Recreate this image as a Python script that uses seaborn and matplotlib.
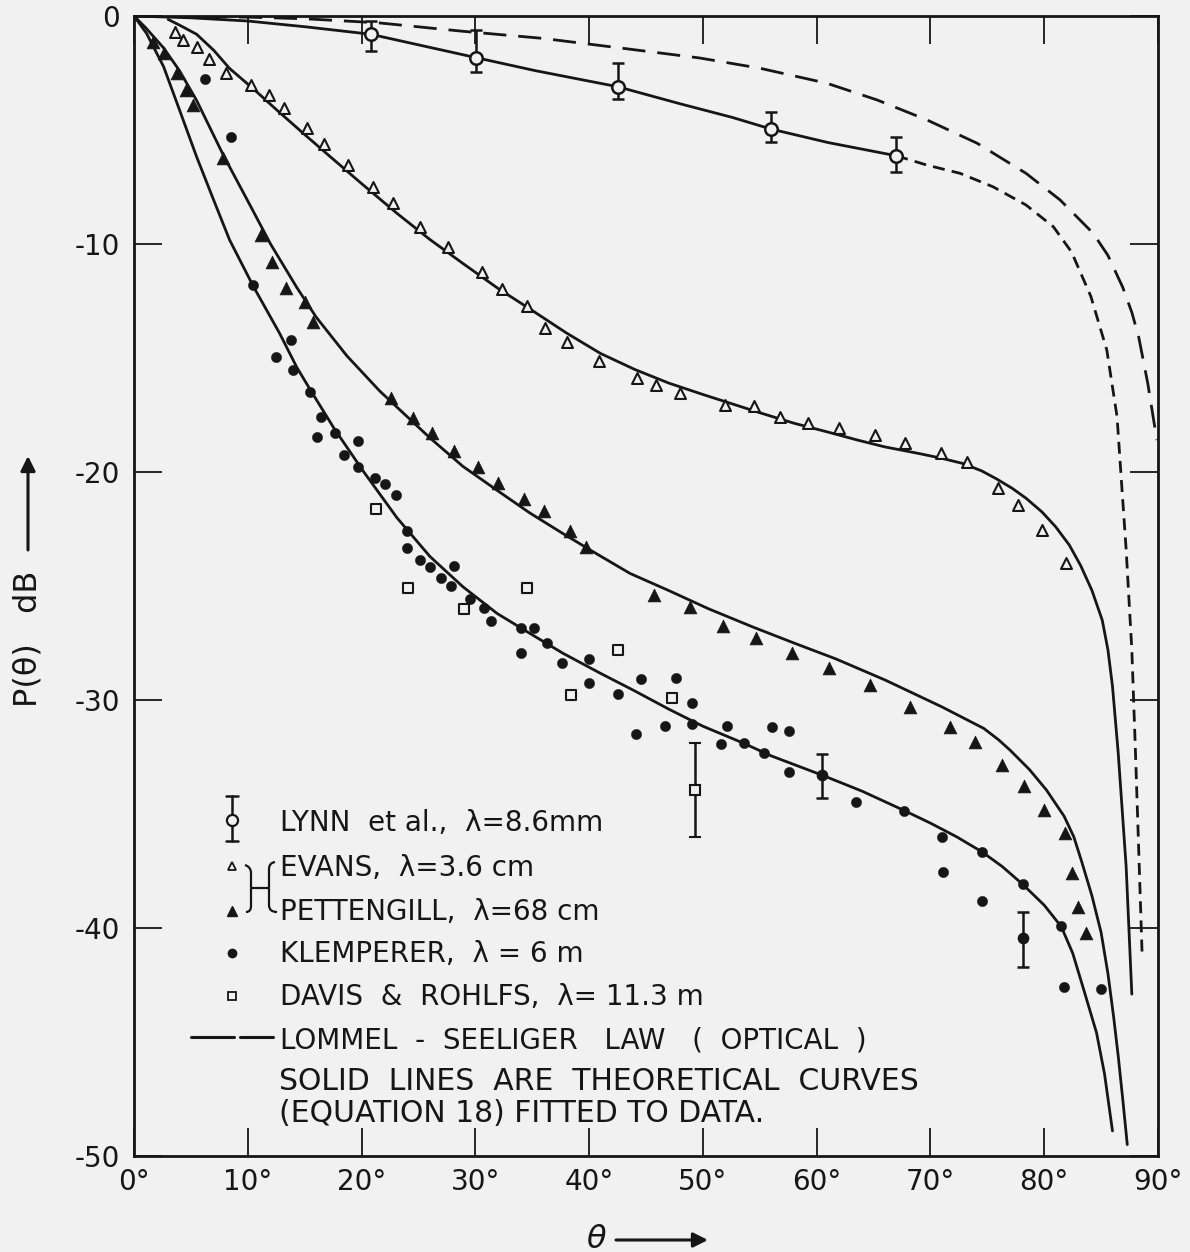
import matplotlib
matplotlib.use("Agg")
import matplotlib.pyplot as plt
import seaborn as sns
from matplotlib.lines import Line2D
from matplotlib.path import Path
from matplotlib.patches import PathPatch
from matplotlib.transforms import Affine2D

# ---------------- data (angle of incidence in degrees, power in dB) ----------------
theta_ticks = [0, 10, 20, 30, 40, 50, 60, 70, 80, 90]
theta_tick_labels = ["0°", "10°", "20°", "30°", "40°", "50°", "60°", "70°", "80°", "90°"]
db_ticks = [0, -10, -20, -30, -40, -50]
db_tick_labels = ["0", "-10", "-20", "-30", "-40", "-50"]

# Lynn et al., 8.6 mm (open circles with error bars)
lynn_theta = [20.8, 30.1, 42.5, 56.0, 67.0]
lynn_db = [-0.80, -1.83, -3.10, -4.96, -6.13]
lynn_err_up = [0.59, 1.22, 1.03, 0.74, 0.84]
lynn_err_dn = [0.72, 0.61, 0.55, 0.55, 0.73]
lynn_fit_theta = [0, 5, 10, 15, 20.8, 30.1, 35.3, 42.5, 48.0, 52.6, 56.0, 61.0, 67.0]
lynn_fit_db = [0, -0.08, -0.22, -0.47, -0.80, -1.83, -2.40, -3.10, -3.85, -4.45, -4.96, -5.55, -6.13]
lynn_ext_theta = [67.0, 69.7, 72.6, 75.5, 78.4, 80.8, 82.4, 84.1, 85.5, 86.4, 86.8, 87.2, 87.7, 88.0, 88.3, 88.6]
lynn_ext_db = [-6.13, -6.54, -6.90, -7.49, -8.29, -9.24, -10.35, -12.3, -14.65, -17.57, -20.5, -23.4, -27.8, -32.0, -36.5, -41.1]

# Evans, 3.6 cm (open triangles)
evans_theta = [3.6, 4.3, 5.5, 6.6, 8.1, 10.3, 11.9, 13.2, 15.2, 16.7, 18.8, 21.0, 22.8, 25.1,
               27.6, 30.6, 32.3, 34.5, 36.1, 38.1, 40.9, 44.2, 45.9, 48.0, 51.9, 54.5, 56.8,
               59.2, 62.0, 65.1, 67.8, 70.9, 73.2, 75.9, 77.7, 79.8, 81.9]
evans_db = [-0.69, -1.05, -1.37, -1.90, -2.49, -3.03, -3.46, -4.05, -4.93, -5.63, -6.54, -7.49,
            -8.22, -9.24, -10.12, -11.21, -11.99, -12.72, -13.70, -14.28, -15.13, -15.86, -16.18,
            -16.55, -17.06, -17.10, -17.60, -17.84, -18.08, -18.38, -18.74, -19.18, -19.55,
            -20.72, -21.45, -22.54, -24.00]
evans_fit_theta = [3.0, 4.0, 5.5, 7.0, 8.4, 10.5, 12.5, 15.0, 17.2, 20.0, 23.1, 26.0, 28.9, 32.0,
                   34.8, 38.0, 41.0, 44.0, 47.0, 50.0, 52.5, 55.0, 58.0, 61.0, 63.6, 66.0, 69.1,
                   71.0, 72.8, 74.5, 75.8, 77.2, 78.4, 79.8, 81.0, 82.2, 83.2, 84.2, 85.1, 85.6,
                   86.0, 86.5, 87.2, 87.7]
evans_fit_db = [-0.15, -0.40, -0.80, -1.50, -2.30, -3.20, -4.10, -5.20, -6.15, -7.35, -8.65, -9.80,
                -10.85, -11.95, -12.85, -13.90, -14.80, -15.50, -16.10, -16.60, -17.00, -17.40,
                -17.86, -18.25, -18.60, -18.90, -19.20, -19.40, -19.62, -19.95, -20.30, -20.72,
                -21.15, -21.75, -22.40, -23.20, -24.10, -25.20, -26.50, -27.80, -29.40, -32.30,
                -37.30, -42.90]

# Pettengill, 68 cm (filled triangles)
pett_theta = [1.7, 2.6, 3.75, 4.6, 5.2, 7.85, 11.2, 12.1, 13.4, 15.0, 15.7, 22.6, 24.5, 26.2,
              28.1, 30.2, 32.0, 34.3, 36.0, 38.3, 39.7, 45.7, 48.9, 51.8, 54.7, 57.8, 61.1, 64.7,
              68.2, 71.7, 73.9, 76.3, 78.2, 80.0, 81.8, 82.4, 83.0, 83.7]
pett_db = [-1.13, -1.64, -2.51, -3.25, -3.90, -6.24, -9.60, -10.78, -11.94, -12.53, -13.41,
           -16.74, -17.62, -18.30, -19.07, -19.80, -20.47, -21.20, -21.70, -22.59, -23.30, -25.40,
           -25.90, -26.75, -27.30, -27.92, -28.61, -29.34, -30.29, -31.20, -31.83, -32.85, -33.77,
           -34.82, -35.82, -37.57, -39.07, -40.23]
pett_fit_theta = [0, 1.0, 2.6, 4.0, 5.5, 7.85, 10.2, 12.0, 14.3, 16.0, 18.7, 21.6, 23.1, 26.0,
                  28.9, 31.9, 34.8, 37.7, 40.7, 43.6, 47.0, 50.5, 54.4, 58.0, 61.7, 66.0, 71.0,
                  74.7, 76.0, 77.0, 78.7, 80.2, 81.75, 82.6, 83.3, 84.2, 85.0, 85.6, 86.1, 86.5,
                  86.9, 87.3]
pett_fit_db = [0, -0.50, -1.40, -2.40, -3.70, -6.10, -8.30, -10.00, -11.90, -13.20, -14.90,
               -16.45, -17.15, -18.50, -19.75, -20.80, -21.80, -22.70, -23.60, -24.45, -25.20,
               -26.00, -26.80, -27.50, -28.20, -29.12, -30.30, -31.25, -31.75, -32.20, -33.05,
               -33.95, -35.10, -36.00, -37.10, -38.60, -40.20, -42.00, -43.90, -45.60, -47.50,
               -49.50]

# Klemperer, 6 m (filled circles)
klem_theta = [6.2, 8.5, 10.5, 13.8, 12.5, 14.0, 15.5, 16.4, 16.1, 17.7, 19.7, 18.5, 19.7, 21.2,
              22.1, 23.0, 24.0, 24.0, 25.1, 26.0, 27.0, 27.9, 28.1, 29.5, 30.8, 31.4, 34.0, 35.2,
              34.0, 36.3, 37.6, 40.0, 40.0, 42.5, 44.6, 47.6, 49.0, 44.1, 46.7, 49.0, 52.1, 51.6,
              53.6, 55.4, 56.1, 57.6, 57.6, 63.5, 67.7, 71.0, 71.1, 74.5, 74.5, 78.1, 81.5, 81.7,
              85.0]
klem_db = [-2.78, -5.32, -11.80, -14.21, -14.97, -15.53, -16.48, -17.57, -18.48, -18.30, -18.63,
           -19.25, -19.77, -20.28, -20.54, -21.00, -22.59, -23.35, -23.86, -24.18, -24.66, -24.99,
           -24.11, -25.58, -25.98, -26.54, -26.86, -26.86, -27.92, -27.49, -28.36, -28.20, -29.27,
           -29.75, -29.10, -29.05, -30.15, -31.50, -31.13, -31.05, -31.13, -31.93, -31.90, -32.34,
           -31.20, -31.36, -33.14, -34.46, -34.87, -36.02, -37.53, -36.65, -38.80, -38.08, -39.91,
           -42.60, -42.69]
klem_eb_theta = [60.5, 78.1]
klem_eb_db = [-33.29, -40.45]
klem_eb_up = [0.90, 1.16]
klem_eb_dn = [1.02, 1.25]
klem_fit_theta = [0, 1.1, 2.6, 4.0, 5.5, 7.0, 8.4, 10.5, 12.8, 14.3, 15.5, 17.6, 20.2, 23.1,
                  26.0, 28.9, 31.9, 34.8, 37.7, 41.0, 44.0, 47.0, 50.0, 53.6, 56.0, 60.5, 64.0,
                  67.7, 70.0, 72.3, 74.5, 76.3, 78.1, 80.0, 81.5, 82.5, 83.5, 84.6, 85.3, 86.0]
klem_fit_db = [0, -0.76, -2.22, -4.12, -6.17, -8.07, -9.82, -11.87, -13.92, -15.40, -16.40,
               -18.10, -20.00, -22.00, -23.70, -25.03, -26.20, -27.08, -27.95, -28.83, -29.60,
               -30.40, -31.15, -31.90, -32.45, -33.30, -34.00, -34.85, -35.40, -36.00, -36.65,
               -37.30, -38.08, -39.00, -39.94, -41.10, -42.75, -44.60, -46.40, -48.90]

# Davis & Rohlfs, 11.3 m (open squares)
davis_theta = [21.3, 24.1, 29.0, 34.5, 38.4, 42.5, 47.25]
davis_db = [-21.64, -25.07, -26.02, -25.07, -29.80, -27.80, -29.90]
davis_eb_theta = [49.3]
davis_eb_db = [-33.95]
davis_eb_err = [2.05]

# Lommel-Seeliger law (optical)
ls_theta = [0, 10, 15, 21.5, 28.9, 35.9, 42.7, 49.7, 55.0, 60.9, 65.3, 69.7, 74.1, 78.4, 81.4,
            84.3, 85.6, 86.9, 87.7, 88.3, 89.1, 89.9]
ls_db = [0, -0.05, -0.12, -0.30, -0.67, -0.98, -1.40, -1.84, -2.29, -2.95, -3.68, -4.56, -5.58,
         -6.90, -8.07, -9.53, -10.50, -11.90, -13.00, -14.07, -16.11, -18.60]

legend_labels = [
    "LYNN  et al.,  λ=8.6mm",
    "EVANS,  λ=3.6 cm",
    "PETTENGILL,  λ=68 cm",
    "KLEMPERER,  λ = 6 m",
    "DAVIS  &  ROHLFS,  λ= 11.3 m",
    "LOMMEL  -  SEELIGER   LAW   (  OPTICAL  )",
]
note_lines = ["SOLID  LINES  ARE  THEORETICAL  CURVES", "(EQUATION 18) FITTED TO DATA."]

# ---------------- style ----------------
sns.set_theme(style="ticks")
plt.rcParams["font.family"] = ["DejaVu Sans"]
BG = "#f1f1f1"
INK = "#161616"
LW = 2.0
W, H = 1190, 1252

fig = plt.figure(figsize=(W / 100, H / 100), dpi=100, facecolor=BG)


def fx(x):
    return x / W


def fy(y):
    return 1 - y / H


ax = fig.add_axes([fx(134), fy(1156), fx(1158) - fx(134), fy(16) - fy(1156)])
ax.set_facecolor(BG)


def curve(th, db, **kw):
    sns.lineplot(x=th, y=db, sort=False, estimator=None, color=INK, linewidth=LW,
                 ax=ax, legend=False, zorder=2, **kw)


# theoretical curves and optical law
curve(lynn_fit_theta, lynn_fit_db)
curve(lynn_ext_theta, lynn_ext_db, linestyle=(0, (4.3, 2.6)))
curve(evans_fit_theta, evans_fit_db)
curve(pett_fit_theta, pett_fit_db)
curve(klem_fit_theta, klem_fit_db)
curve(ls_theta, ls_db, linestyle=(0, (8.3, 4.3)))

# measurements
sns.scatterplot(x=evans_theta, y=evans_db, marker="^", s=62, color=INK, facecolor=BG,
                edgecolor=INK, linewidth=1.5, ax=ax, zorder=4, legend=False)
sns.scatterplot(x=pett_theta, y=pett_db, marker="^", s=85, color=INK, edgecolor=INK,
                linewidth=0.5, ax=ax, zorder=4, legend=False)
sns.scatterplot(x=klem_theta, y=klem_db, marker="o", s=55, color=INK, edgecolor=INK,
                linewidth=0.3, ax=ax, zorder=4, legend=False)
sns.scatterplot(x=davis_theta, y=davis_db, marker="s", s=48, color=INK, facecolor=BG,
                edgecolor=INK, linewidth=1.5, ax=ax, zorder=4, legend=False)

ax.errorbar(lynn_theta, lynn_db, yerr=[lynn_err_dn, lynn_err_up], fmt="o", ms=9, mfc=BG,
            mec=INK, mew=1.8, ecolor=INK, elinewidth=1.8, capsize=4.5, capthick=1.8, zorder=5)
ax.errorbar(klem_eb_theta, klem_eb_db, yerr=[klem_eb_dn, klem_eb_up], fmt="o", ms=7.4,
            mfc=INK, mec=INK, ecolor=INK, elinewidth=1.8, capsize=4.5, capthick=1.8, zorder=5)
ax.errorbar(davis_eb_theta, davis_eb_db, yerr=davis_eb_err, fmt="s", ms=7, mfc=BG,
            mec=INK, mew=1.5, ecolor=INK, elinewidth=1.8, capsize=4.5, capthick=1.8, zorder=5)

# axes
ax.set_xlim(0, 90)
ax.set_ylim(-50, 0)
ax.set_xticks(theta_ticks)
ax.set_xticklabels(theta_tick_labels)
ax.set_yticks(db_ticks)
ax.set_yticklabels(db_tick_labels)
ax.set_xlabel("")
ax.set_ylabel("")
ax.tick_params(axis="both", which="major", direction="in", length=20, width=1.3,
               color=INK, top=True, right=True, labelsize=20, labelcolor=INK)
ax.tick_params(axis="x", pad=9)
ax.tick_params(axis="y", pad=10)
for sp in ax.spines.values():
    sp.set_linewidth(2.0)
    sp.set_color(INK)

# axis titles with arrows
fig.text(fx(28), fy(707), "P(θ)   dB", rotation=90, ha="center", va="bottom",
         fontsize=23, color=INK)
fig.text(fx(596), fy(1239), "θ", style="italic", ha="center", va="center",
         fontsize=23, color=INK)
arrow_kw = dict(arrowstyle="-|>", lw=2.2, color=INK, mutation_scale=22, shrinkA=0, shrinkB=0)
ax.annotate("", xy=(28, H - 456), xytext=(28, H - 550), xycoords="figure pixels",
            textcoords="figure pixels", arrowprops=arrow_kw, annotation_clip=False)
ax.annotate("", xy=(708, H - 1240), xytext=(616, H - 1240), xycoords="figure pixels",
            textcoords="figure pixels", arrowprops=arrow_kw, annotation_clip=False)

# legend block
pix = Affine2D().scale(1, -1).translate(0, H)
text_x = 280
baselines = [831, 876, 920, 962, 1005, 1049]
for lab, yb in zip(legend_labels, baselines):
    fig.text(fx(text_x), fy(yb), lab, ha="left", va="baseline", fontsize=20, color=INK)
for lab, yb in zip(note_lines, [1090, 1122]):
    fig.text(fx(279), fy(yb), lab, ha="left", va="baseline", fontsize=21.5, color=INK)

sym_x = 232
fig.add_artist(Line2D([sym_x, sym_x], [796, 841], transform=pix, color=INK, lw=1.8))
for yc in (796, 841):
    fig.add_artist(Line2D([sym_x - 6, sym_x + 6], [yc, yc], transform=pix, color=INK, lw=1.8))
fig.add_artist(Line2D([sym_x], [820], transform=pix, marker="o", ms=8, mfc=BG, mec=INK,
                      mew=1.6, linestyle="none"))
fig.add_artist(Line2D([sym_x], [866], transform=pix, marker="^", ms=6, mfc=BG, mec=INK,
                      mew=1.3, linestyle="none"))
fig.add_artist(Line2D([sym_x], [911], transform=pix, marker="^", ms=7, mfc=INK, mec=INK,
                      linestyle="none"))
fig.add_artist(Line2D([sym_x], [953], transform=pix, marker="o", ms=6, mfc=INK, mec=INK,
                      linestyle="none"))
fig.add_artist(Line2D([sym_x], [996], transform=pix, marker="s", ms=6, mfc=BG, mec=INK,
                      mew=1.3, linestyle="none"))
fig.add_artist(Line2D([191, 234], [1037, 1037], transform=pix, color=INK, lw=2.2))
fig.add_artist(Line2D([240, 273], [1037, 1037], transform=pix, color=INK, lw=2.2))

# bracket joining the Evans and Pettengill entries
brace = Path(
    [(245, 865), (251, 867), (251, 873), (251, 906), (251, 912), (246, 912),
     (275, 862), (269, 863), (269, 869), (269, 905), (269, 912), (277, 912),
     (251, 888), (269, 888)],
    [Path.MOVETO, Path.CURVE3, Path.CURVE3, Path.LINETO, Path.CURVE3, Path.CURVE3,
     Path.MOVETO, Path.CURVE3, Path.CURVE3, Path.LINETO, Path.CURVE3, Path.CURVE3,
     Path.MOVETO, Path.LINETO],
)
fig.add_artist(PathPatch(brace, transform=pix, fill=False, edgecolor=INK, lw=1.6))

fig.savefig("out.png", dpi=100, facecolor=BG)
